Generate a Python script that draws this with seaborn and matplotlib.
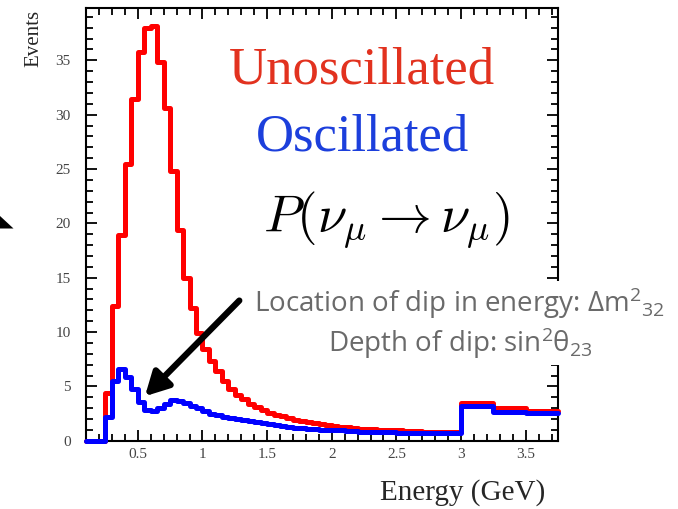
import numpy as np
import pandas as pd
import matplotlib
matplotlib.use('Agg')
import matplotlib.pyplot as plt
import seaborn as sns
from matplotlib.ticker import MultipleLocator, FuncFormatter
from matplotlib.patches import Polygon

# bin edges (GeV): 0.05 wide up to 3, then 0.25 wide
edges = np.round(np.concatenate([np.arange(0.10, 3.0001, 0.05), [3.25, 3.5, 3.75]]), 3)
centers = (edges[:-1] + edges[1:]) / 2

unosc = [0, 0, 0,
         4.4, 12.4, 18.9, 25.5, 31.4, 35.8, 38.0, 38.2, 34.8, 30.6,
         24.8, 19.4, 15.0, 12.2, 9.9, 8.4, 7.3, 6.4, 5.5, 4.8,
         4.2, 3.8, 3.4, 3.1, 2.8, 2.6, 2.4, 2.3, 2.1, 1.9,
         1.8, 1.7, 1.6, 1.5, 1.45, 1.35, 1.3, 1.25, 1.2, 1.1,
         1.1, 1.05, 1.0, 1.0, 0.95, 0.95, 0.9, 0.9, 0.9, 0.85,
         0.85, 0.85, 0.8, 0.8, 0.8,
         3.5, 3.0, 2.75]
osc = [0, 0, 0,
       2.2, 5.5, 6.6, 5.9, 4.8, 3.6, 2.8, 2.7, 3.0, 3.4,
       3.75, 3.7, 3.5, 3.2, 3.0, 2.7, 2.5, 2.35, 2.2, 2.1,
       2.0, 1.9, 1.8, 1.7, 1.6, 1.55, 1.45, 1.35, 1.3, 1.2,
       1.15, 1.1, 1.05, 1.0, 1.0, 0.95, 0.95, 0.9, 0.9, 0.85,
       0.85, 0.85, 0.8, 0.8, 0.8, 0.75, 0.75, 0.75, 0.75, 0.7,
       0.7, 0.7, 0.7, 0.7, 0.7,
       3.2, 2.65, 2.55]

df = pd.DataFrame({'energy': centers, 'unosc': unosc, 'osc': osc})
bin_list = [float(e) for e in edges]

sns.set_style('ticks')
plt.rcParams['font.family'] = ['Liberation Serif', 'DejaVu Serif']
plt.rcParams['mathtext.fontset'] = 'custom'
plt.rcParams['mathtext.rm'] = 'Open Sans'
plt.rcParams['mathtext.it'] = 'Open Sans:italic'

fig = plt.figure(figsize=(6.78, 5.09), dpi=100)
ax = fig.add_axes([0.127, 0.134, 0.696, 0.850])

sns.histplot(data=df, x='energy', weights='unosc', bins=bin_list, element='step', fill=False,
             color='#ff0000', linewidth=3.6, ax=ax)
sns.histplot(data=df, x='energy', weights='osc', bins=bin_list, element='step', fill=False,
             color='#0000ff', linewidth=3.6, ax=ax)
for i, ln in enumerate(ax.lines):
    ln.set_clip_on(False)
    ln.set_zorder(3 + i)

ax.set_xlim(0.1, 3.75)
ax.set_ylim(0, 39.8)
ax.xaxis.set_major_locator(MultipleLocator(0.5))
ax.xaxis.set_minor_locator(MultipleLocator(0.1))
ax.yaxis.set_major_locator(MultipleLocator(5))
ax.yaxis.set_minor_locator(MultipleLocator(1))
fmt = FuncFormatter(lambda v, p: '%g' % v)
ax.xaxis.set_major_formatter(fmt)
ax.yaxis.set_major_formatter(fmt)
ax.tick_params(which='both', direction='in', top=True, right=True, width=1.3, colors='black',
               labelcolor='#444444', labelsize=11)
ax.tick_params(which='major', length=8)
ax.tick_params(which='minor', length=5)
ax.tick_params(axis='y', pad=11)
ax.tick_params(axis='x', pad=5)
for s in ax.spines.values():
    s.set_linewidth(1.5)
    s.set_color('black')

ax.set_ylabel('Events', fontsize=15)
ax.yaxis.set_label_coords(-0.13, 0.995)
ax.yaxis.label.set_ha('right')
ax.yaxis.label.set_va('top')
ax.set_xlabel('Energy (GeV)', fontsize=21)
ax.xaxis.set_label_coords(0.972, -0.136)
ax.xaxis.label.set_ha('right')
ax.xaxis.label.set_va('baseline')

ax.text(0.585, 0.857, 'Unoscillated', transform=ax.transAxes, color='#e2321f',
        fontsize=38, ha='center', va='center')
ax.text(0.586, 0.702, 'Oscillated', transform=ax.transAxes, color='#1c3fdc',
        fontsize=38, ha='center', va='center')
ax.text(0.636, 0.51, r'$P(\nu_\mu \rightarrow \nu_\mu)$', transform=ax.transAxes,
        color='black', fontsize=38, ha='center', va='center', math_fontfamily='cm')

gray = '#6a6a6a'
box = dict(facecolor='white', edgecolor='none', pad=3)
ax.text(0.792, 0.319, r'Location of dip in energy: Δm$^{2}{}_{32}$', transform=ax.transAxes,
        color=gray, fontsize=20, ha='center', va='center', family=['Open Sans', 'DejaVu Sans'],
        math_fontfamily='custom', clip_on=False, bbox=box, zorder=6)
ax.text(0.792, 0.226, r'Depth of dip: sin$^{2}$θ$_{23}$', transform=ax.transAxes,
        color=gray, fontsize=20, ha='center', va='center', family=['Open Sans', 'DejaVu Sans'],
        math_fontfamily='custom', clip_on=False, bbox=box, zorder=6)

ax.annotate('', xy=(0.555, 4.1), xytext=(1.285, 12.9),
            arrowprops=dict(arrowstyle='-|>,head_length=1.4,head_width=0.75',
                            color='black', lw=4.5, shrinkA=0, shrinkB=0))

# partial arrow head at the slide's left edge
fig.patches.append(Polygon([[0, 1 - 216 / 509], [13.5 / 678, 1 - 228.5 / 509], [0, 1 - 228.5 / 509]],
                           closed=True, transform=fig.transFigure, facecolor='black',
                           edgecolor='none'))

fig.savefig('out.png', dpi=100)
